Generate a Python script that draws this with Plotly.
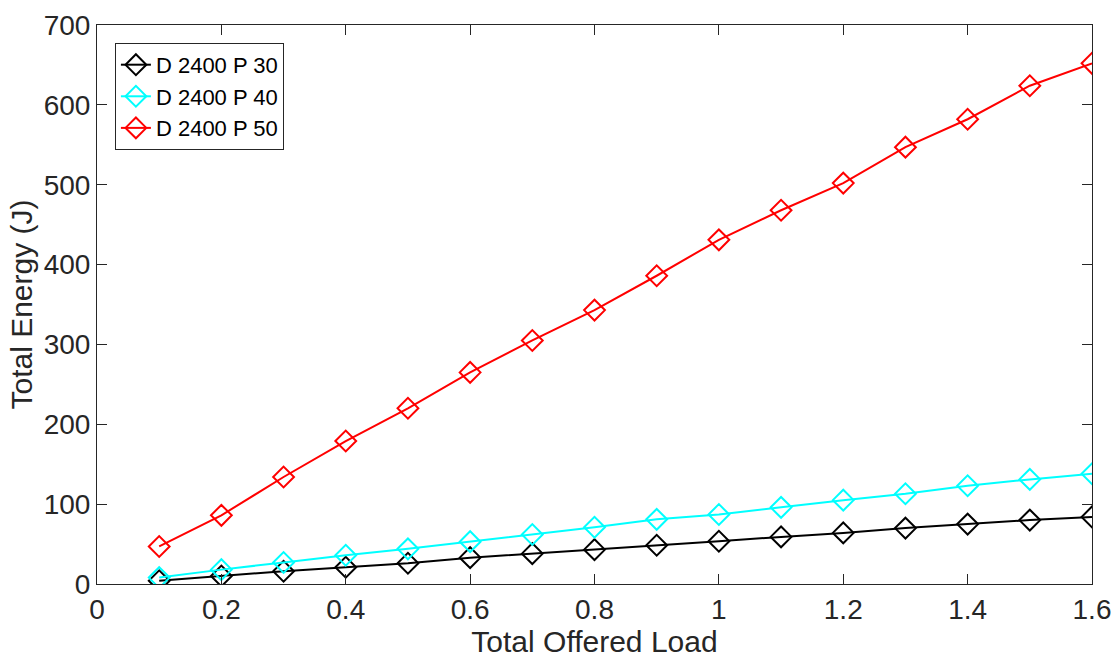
import plotly.graph_objects as go

load = [0.1, 0.2, 0.3, 0.4, 0.5, 0.6, 0.7, 0.8, 0.9, 1.0, 1.1, 1.2, 1.3, 1.4, 1.5, 1.6]
p30 = [4, 10, 16, 21, 26, 33, 38, 43, 48.5, 53.5, 59, 64, 70, 75, 80, 84]
p40 = [8, 18, 27, 36, 44, 53, 62, 71, 81, 87, 96, 105, 113, 123, 131, 138]
p50 = [47, 86, 134, 179, 220, 265, 305, 343, 386, 431, 468, 502, 547, 582, 624, 652]
names = ["D 2400 P 30", "D 2400 P 40", "D 2400 P 50"]
colors = ["#000000", "#00FFFF", "#FF0000"]
xticks = [0, 0.2, 0.4, 0.6, 0.8, 1, 1.2, 1.4, 1.6]
xticklabels = ["0", "0.2", "0.4", "0.6", "0.8", "1", "1.2", "1.4", "1.6"]
yticks = [0, 100, 200, 300, 400, 500, 600, 700]

FONT = "Liberation Sans, Arial, Helvetica, sans-serif"

fig = go.Figure()
for ys, nm, c in zip([p30, p40, p50], names, colors):
    fig.add_trace(go.Scatter(
        x=load, y=ys, name=nm, mode="lines+markers",
        line=dict(color=c, width=2),
        marker=dict(symbol="diamond-open", size=16, color=c, line=dict(width=2, color=c)),
    ))

axis_common = dict(
    showline=True, linecolor="#262626", linewidth=1, mirror="allticks",
    ticks="inside", ticklen=10, tickcolor="#262626", tickwidth=1,
    showgrid=False, zeroline=False, automargin=False,
    tickfont=dict(family=FONT, size=28, color="#262626"),
)
fig.update_xaxes(range=[0, 1.6], tickvals=xticks, ticktext=xticklabels,
                 title=dict(text="Total Offered Load", standoff=4,
                            font=dict(family=FONT, size=30, color="#262626")),
                 **axis_common)
fig.update_yaxes(range=[0, 700], tickvals=yticks,
                 title=dict(text="Total Energy (J)", standoff=2,
                            font=dict(family=FONT, size=30, color="#262626")),
                 **axis_common)
fig.update_layout(
    width=1113, height=660,
    margin=dict(l=97, r=21, t=25, b=76),
    plot_bgcolor="white", paper_bgcolor="white",
    legend=dict(x=0.018, y=0.968, xanchor="left", yanchor="top",
                bordercolor="#262626", borderwidth=1, bgcolor="white",
                font=dict(family=FONT, size=22, color="#000000"),
                itemwidth=30, tracegroupgap=0),
)
fig.write_html("out.html")
